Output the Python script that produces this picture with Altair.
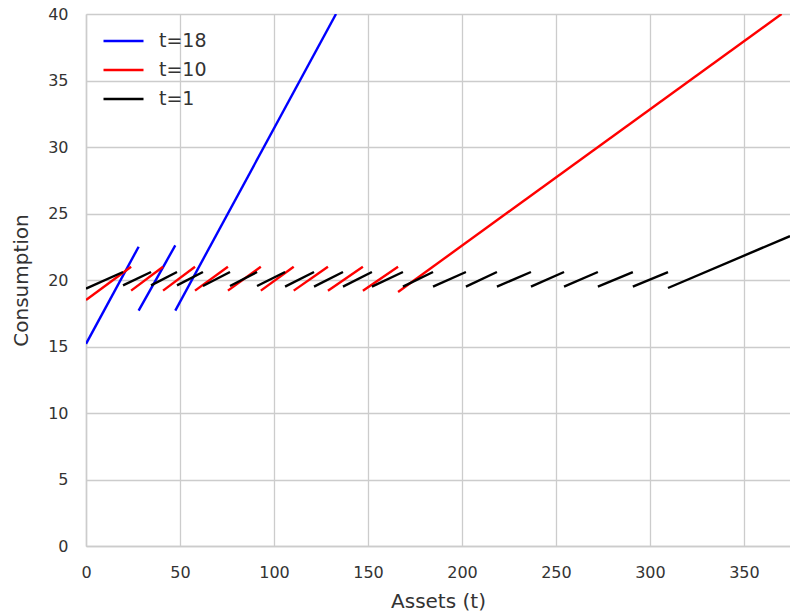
import altair as alt
import pandas as pd

# Segment endpoints (x0, y0, x1, y1) per series
blue_x0 = [0, 28, 47.5]
blue_y0 = [15.2, 17.7, 17.7]
blue_x1 = [28, 47.5, 133]
blue_y1 = [22.5, 22.6, 40]

red_x0 = [0, 24, 41, 58, 75.5, 93, 110.5, 128.7, 147.3, 166]
red_y0 = [18.5, 19.2, 19.2, 19.2, 19.2, 19.2, 19.2, 19.2, 19.2, 19.1]
red_x1 = [24, 41, 58, 75.5, 93, 110.5, 128.7, 147.3, 166, 370]
red_y1 = [21.0, 21.0, 21.0, 21.0, 21.0, 21.0, 21.0, 21.0, 21.0, 40]

black_x0 = [0, 19.7, 34.6, 48.4, 62.2, 76.6, 91, 105.9, 121.3, 136.7, 152.1, 168.6,
            184.6, 202.1, 218.6, 236.7, 254.3, 272.3, 290.9, 309.6]
black_y0 = [19.35, 19.6, 19.6, 19.6, 19.55, 19.55, 19.55, 19.5, 19.5, 19.5, 19.5, 19.5,
            19.5, 19.5, 19.5, 19.5, 19.5, 19.5, 19.5, 19.4]
black_x1 = [19.7, 34.6, 48.4, 62.2, 76.6, 91, 105.9, 121.3, 136.7, 152.1, 168.6, 184.6,
            202.1, 218.6, 236.7, 254.3, 272.3, 290.9, 309.6, 374.5]
black_y1 = [20.6, 20.6, 20.6, 20.6, 20.6, 20.6, 20.6, 20.6, 20.6, 20.6, 20.6, 20.6,
            20.6, 20.6, 20.6, 20.6, 20.6, 20.6, 20.6, 23.3]

series = [
    ("t=18", blue_x0, blue_y0, blue_x1, blue_y1),
    ("t=10", red_x0, red_y0, red_x1, red_y1),
    ("t=1", black_x0, black_y0, black_x1, black_y1),
]

rows = []
for name, x0s, y0s, x1s, y1s in series:
    for i, (a, b, c, d) in enumerate(zip(x0s, y0s, x1s, y1s)):
        seg = f"{name}_{i}"
        rows.append({"series": name, "seg": seg, "order": 0, "assets": a, "cons": b})
        rows.append({"series": name, "seg": seg, "order": 1, "assets": c, "cons": d})
df = pd.DataFrame(rows)

font = "DejaVu Sans"

chart = alt.Chart(df).mark_line(strokeWidth=2.4, clip=True).encode(
    x=alt.X("assets:Q", title="Assets (t)",
            scale=alt.Scale(domain=[0, 374.5], nice=False, zero=False),
            axis=alt.Axis(values=[0, 50, 100, 150, 200, 250, 300, 350], labelFlush=False)),
    y=alt.Y("cons:Q", title="Consumption",
            scale=alt.Scale(domain=[0, 40], nice=False),
            axis=alt.Axis(values=[0, 5, 10, 15, 20, 25, 30, 35, 40])),
    color=alt.Color("series:N",
                    scale=alt.Scale(domain=["t=18", "t=10", "t=1"],
                                    range=["#0000ff", "#ff0000", "#000000"]),
                    legend=alt.Legend(title=None, orient="none", legendX=16, legendY=12.5,
                                      symbolType="stroke", symbolSize=1600,
                                      symbolStrokeWidth=2.4, labelFontSize=19,
                                      labelFont=font, labelColor="#333333",
                                      labelOffset=14, rowPadding=0, clipHeight=29)),
    detail="seg:N",
    order="order:Q",
).properties(
    width=704, height=532,
    autosize=alt.AutoSizeParams(type="none"),
    padding={"left": 86, "top": 14, "right": 0, "bottom": 70},
).configure_view(
    strokeWidth=0
).configure_axis(
    grid=True, gridColor="#cccccc", gridWidth=1.3,
    domain=True, domainColor="#cccccc", domainWidth=1.5,
    ticks=False, labelPadding=18,
    labelFont=font, labelFontSize=16, labelColor="#333333",
    titleFont=font, titleFontSize=20, titleColor="#333333", titleFontWeight="normal",
).configure_axisX(
    titlePadding=11
).configure_axisY(
    titlePadding=16
)

chart.save("out.html", embed_options={"renderer": "svg", "actions": False})
